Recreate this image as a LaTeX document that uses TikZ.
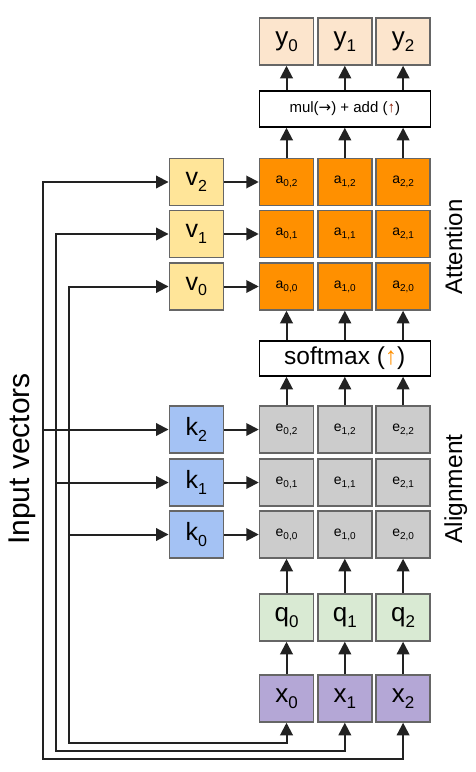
\documentclass[tikz,border=0pt]{standalone}
\usepackage{fontspec}
\setmainfont{Liberation Sans}
\newfontfamily\arrowfont{DejaVu Sans}
\usetikzlibrary{arrows.meta}
\definecolor{ypeach}{HTML}{FCE5CD}
\definecolor{aorange}{HTML}{FF9000}
\definecolor{vyellow}{HTML}{FFE599}
\definecolor{kblue}{HTML}{A4C2F4}
\definecolor{egray}{HTML}{CCCCCC}
\definecolor{qgreen}{HTML}{D9EAD3}
\definecolor{xpurple}{HTML}{B4A7D6}
\definecolor{bordergray}{HTML}{666666}
\definecolor{linedark}{HTML}{222222}
\definecolor{mulred}{HTML}{8B1A00}
\newcommand\sublab[4]{{\fontsize{#1pt}{#1pt}\selectfont #3\raisebox{-0.22em}{\fontsize{#2pt}{#2pt}\selectfont #4}}}
\begin{document}
\begin{tikzpicture}[x=1pt,y=-1pt,
 cell/.style={draw=bordergray,line width=1.5pt,minimum width=54pt,minimum height=47pt,inner sep=0pt,text=black},
 wide/.style={draw=black,line width=1.5pt,fill=white,minimum width=171pt,inner sep=0pt},
 arr/.style={draw=linedark,line width=2pt,-{Triangle[length=12.5pt,width=12.5pt]}},
 arrboth/.style={draw=linedark,line width=2pt,{Triangle[length=12.5pt,width=12.5pt]}-{Triangle[length=12.5pt,width=12.5pt]}},
 side/.style={rotate=90,anchor=base}]
\useasboundingbox (0,0) rectangle (476,772);
% wide boxes
\node[wide,minimum height=36pt] (mul) at (344.8,109) {\fontsize{15pt}{15pt}\selectfont mul({\arrowfont →}) + add (\textcolor{mulred}{↑})};
\node[wide,minimum height=35pt] (sm) at (344.8,358.5) {\fontsize{24.5pt}{24.5pt}\selectfont softmax (\textcolor{aorange}{↑})};
% columns
\foreach \i in {0,1,2} {
  \pgfmathsetmacro\cx{286.5+58.3*\i}
  \node[cell,fill=ypeach] (y\i) at (\cx,41.5) {\sublab{26}{17}{y}{\i}};
  \node[cell,fill=qgreen] (q\i) at (\cx,617.5) {\sublab{26}{17}{q}{\i}};
  \node[cell,fill=xpurple] (x\i) at (\cx,698.5) {\sublab{26}{17}{x}{\i}};
  \foreach \j/\cy in {0/286.5,1/234,2/182} {
    \node[cell,fill=aorange] (a\i\j) at (\cx,\cy) {\sublab{14}{10}{a}{\i,\j}};
  }
  \foreach \j/\cy in {0/534.5,1/482.5,2/429.5} {
    \node[cell,fill=egray] (e\i\j) at (\cx,\cy) {\sublab{14}{10}{e}{\i,\j}};
  }
}
\foreach \j/\cy in {0/286.5,1/234,2/182} {
  \node[cell,fill=vyellow] (v\j) at (196.3,\cy) {\sublab{25}{16}{v}{\j}};
}
\foreach \j/\cy in {0/534.5,1/482.5,2/429.5} {
  \node[cell,fill=kblue] (k\j) at (196.3,\cy) {\sublab{25}{16}{k}{\j}};
}
% vertical arrows
\foreach \i in {0,1,2} {
  \draw[arr] (y\i.south |- mul.north) -- (y\i.south);
  \draw[arr] (a\i2.north) -- (a\i2.north |- mul.south);
  \draw[arr] (sm.north -| a\i0.south) -- (a\i0.south);
  \draw[arr] (e\i2.north) -- (e\i2.north |- sm.south);
  \draw[arr] (q\i.north) -- (e\i0.south);
  \draw[arr] (x\i.north) -- (q\i.south);
}
% horizontal arrows
\foreach \j in {0,1,2} {
  \draw[arr] (v\j.east) -- (a0\j.west);
  \draw[arr] (k\j.east) -- (e0\j.west);
}
% input lines
\coordinate (c0) at (69,743.3);
\coordinate (c1) at (55.7,750.7);
\coordinate (c2) at (42.7,759);
\foreach \j in {0,1,2} {
  \draw[arrboth] (v\j.west) -| (c\j) -| (x\j.south);
  \draw[arr] (c\j |- k\j.west) -- (k\j.west);
}
% side labels
\node[side,font=\fontsize{30pt}{30pt}\selectfont] (inp) at (29,459) {Input vectors};
\node[side,font=\fontsize{24pt}{24pt}\selectfont] (att) at (462,247) {Attention};
\node[side,font=\fontsize{24.5pt}{24.5pt}\selectfont] (ali) at (462,489) {Alignment};
\end{tikzpicture}
\end{document}
